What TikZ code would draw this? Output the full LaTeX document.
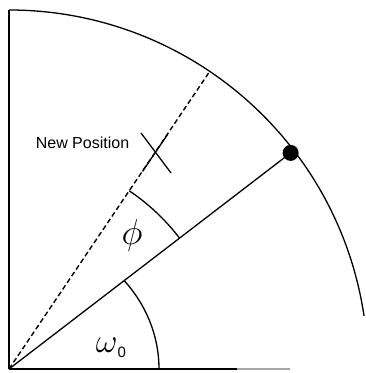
\documentclass[tikz,border=0pt]{standalone}
\usepackage{fontspec}
\newfontfamily\labelfont{Liberation Sans}
\begin{document}
\begin{tikzpicture}[x=1pt,y=1pt,
  ln/.style={line width=1.3pt,black},
  dashln/.style={line width=1.4pt,black,dash pattern=on 5pt off 3pt},
  anglbl/.style={inner sep=0pt}]
\useasboundingbox (-9,-4) rectangle (356,369);
\coordinate (O) at (0,0);
\coordinate (top) at (0,359);
\coordinate (bot) at (228,0);
\coordinate (botend) at (281,0);
\coordinate (P) at (37.5:355);
\coordinate (Q) at (56:359);
% axes
\draw[ln] (O) -- (top);
\draw[ln] (O) -- (bot);
\draw[line width=1.3pt,black!35] (bot) -- (botend);
% big arc
\draw[ln] (top) arc[start angle=90,end angle=8.5,radius=359];
% radius lines
\draw[ln] (O) -- (P);
\draw[dashln] (O) -- (Q);
\fill (P) circle[radius=8];
% angle arcs
\draw[ln] (150,0) arc[start angle=0,end angle=39.8,x radius=150,y radius=138];
\draw[ln] (37.5:215) arc[start angle=37.5,end angle=56,radius=215];
% new position mark
\coordinate (c1) at (132,236);
\coordinate (c2) at (162,196);
\coordinate (c3) at (133.5,197.5);
\coordinate (c4) at (158.5,234.5);
\draw[ln] (c1) -- (c2);
\draw[ln] (c3) -- (c4);
\node[font=\labelfont\fontsize{16}{18}\selectfont,inner sep=0pt] (np) at (73.5,226) {New Position};
% labels
\node[anglbl] (phi) at (123,134) {\scalebox{1.45}{\Huge$\phi$}};
\node[anglbl] (om) at (102,21) {\scalebox{1.35}{\Huge$\omega$}\raisebox{-5pt}{\labelfont\fontsize{15}{15}\selectfont 0}};
\end{tikzpicture}
\end{document}
